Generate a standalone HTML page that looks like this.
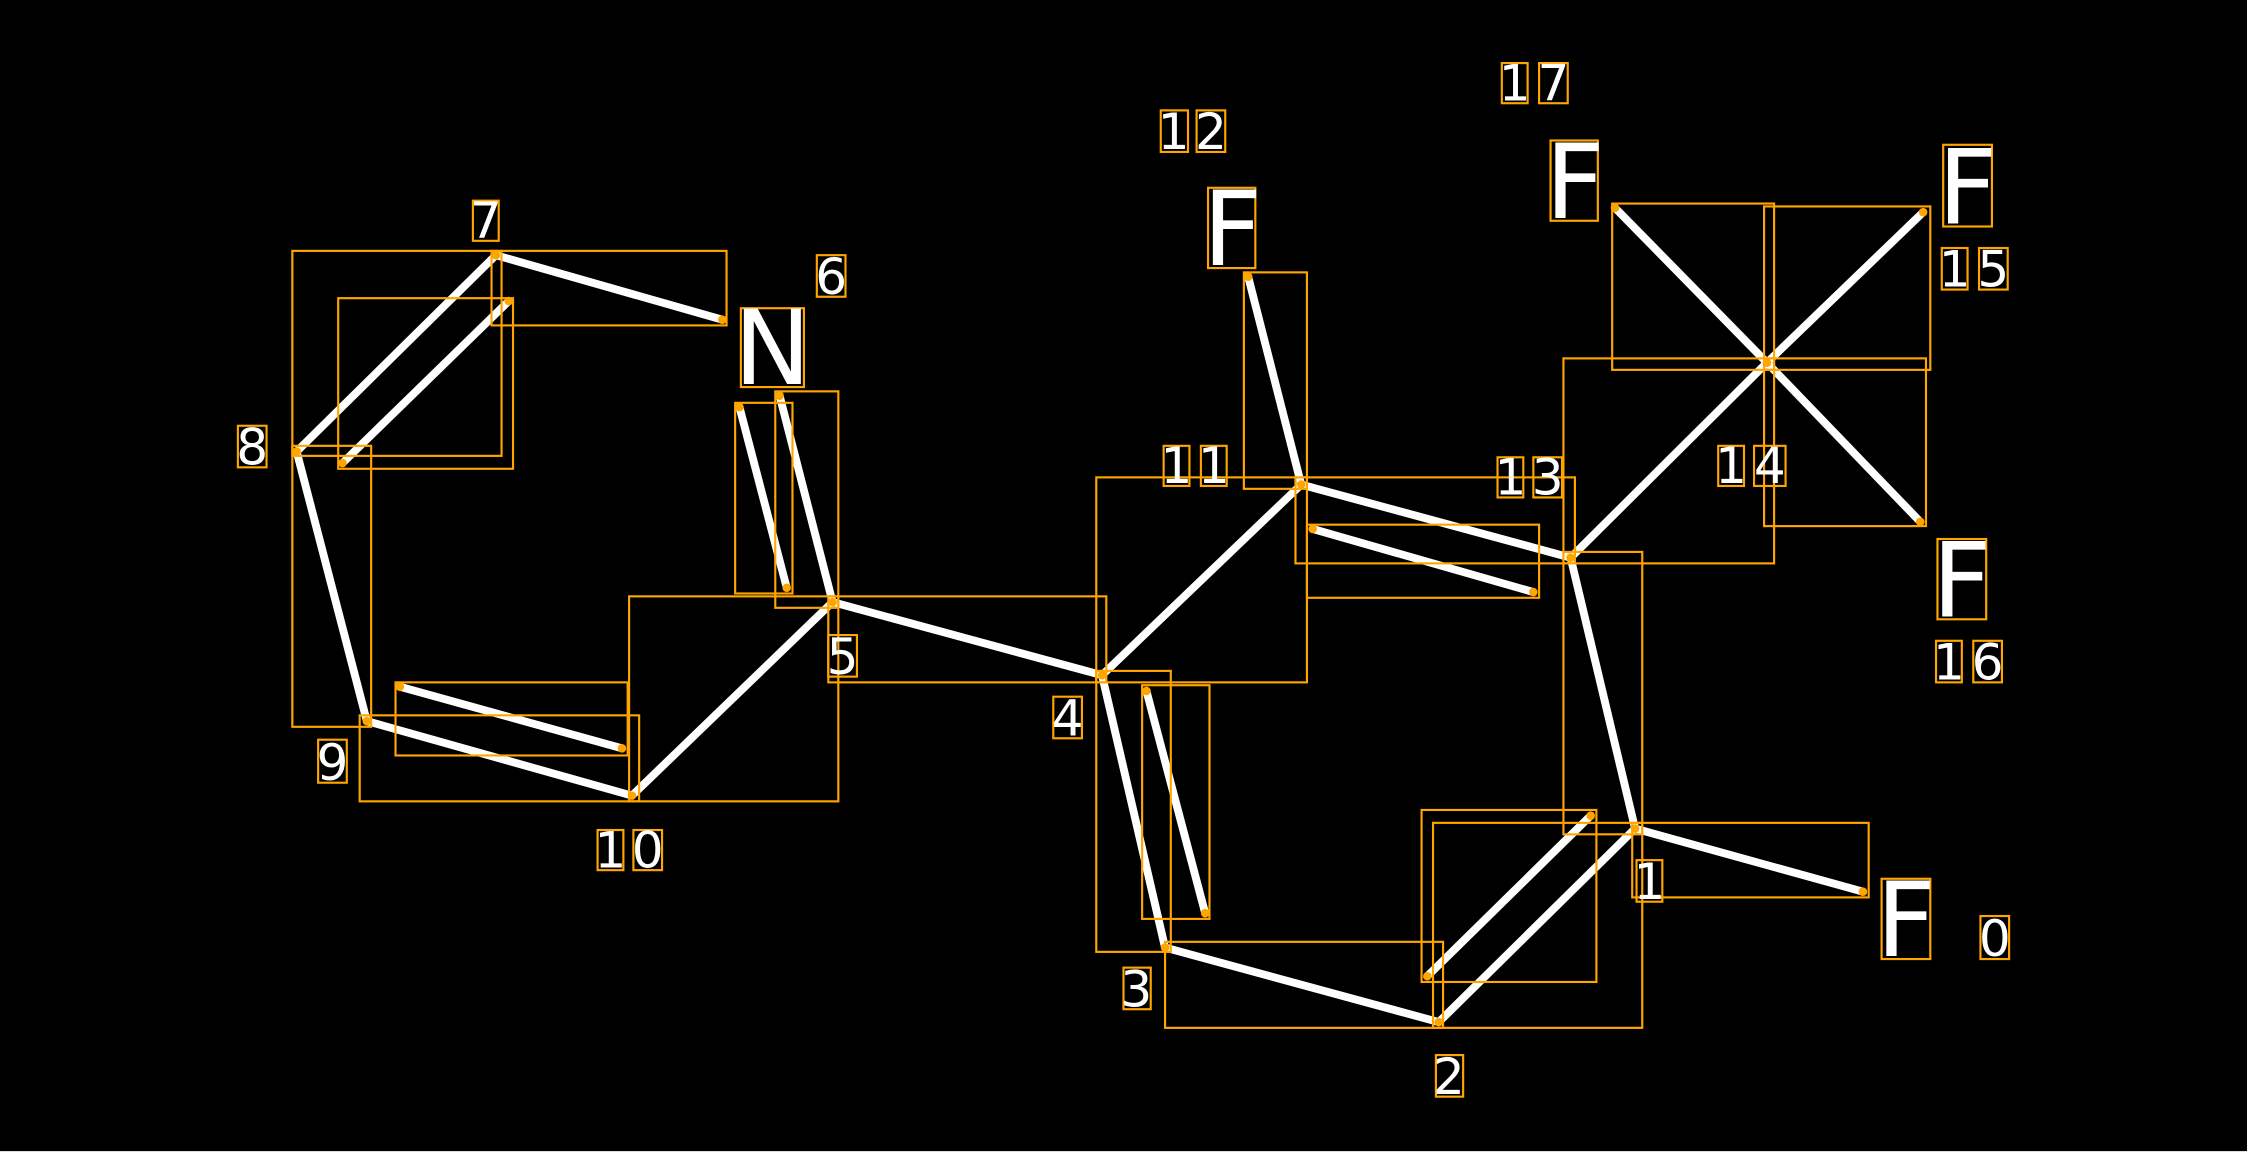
<!DOCTYPE html>
<html><head><meta charset="utf-8"><style>
html,body{margin:0;padding:0;background:#000;overflow:hidden}
svg{display:block}
text{font-family:"DejaVu Sans","Liberation Sans",sans-serif;fill:#fff;text-anchor:middle}
</style></head><body>
<svg width="2247" height="1154" viewBox="0 0 1568 805" preserveAspectRatio="none" xmlns="http://www.w3.org/2000/svg">
<rect width="1568" height="805" fill="#000"/>
<rect x="0" y="803" width="1568" height="2" fill="#fff"/>
<g stroke="#fff" stroke-width="5.5" stroke-linecap="round">
<line x1="346" y1="178" x2="504" y2="223"/>
<line x1="346" y1="178" x2="207" y2="315"/>
<line x1="355" y1="210" x2="239" y2="323"/>
<line x1="207" y1="315" x2="256" y2="503"/>
<line x1="256" y1="503" x2="441" y2="555"/>
<line x1="279" y1="479" x2="434" y2="522"/>
<line x1="441" y1="555" x2="581" y2="420"/>
<line x1="581" y1="420" x2="544" y2="276"/>
<line x1="516" y1="284" x2="549" y2="410"/>
<line x1="581" y1="420" x2="769" y2="471"/>
<line x1="769" y1="471" x2="908" y2="338"/>
<line x1="908" y1="338" x2="871" y2="193"/>
<line x1="908" y1="338" x2="1096" y2="389"/>
<line x1="916" y1="369" x2="1070" y2="413"/>
<line x1="1096" y1="389" x2="1233" y2="253"/>
<line x1="1233" y1="253" x2="1127" y2="145"/>
<line x1="1233" y1="253" x2="1342" y2="148"/>
<line x1="1233" y1="253" x2="1340" y2="364"/>
<line x1="1096" y1="389" x2="1141" y2="578"/>
<line x1="1141" y1="578" x2="1300" y2="622"/>
<line x1="1141" y1="578" x2="1004" y2="713"/>
<line x1="996" y1="681" x2="1110" y2="569"/>
<line x1="1004" y1="713" x2="813" y2="661"/>
<line x1="813" y1="661" x2="769" y2="471"/>
<line x1="800" y1="482" x2="841" y2="637"/>
</g>
<g fill="none" stroke="#FFA500" stroke-width="1.5">
<rect x="204" y="175" width="146" height="143"/>
<rect x="343" y="175" width="164" height="52"/>
<rect x="236" y="208" width="122" height="119"/>
<rect x="204" y="311" width="55" height="196"/>
<rect x="276" y="476" width="162" height="51"/>
<rect x="251" y="499" width="195" height="60"/>
<rect x="439" y="416" width="146" height="143"/>
<rect x="513" y="281" width="40" height="133"/>
<rect x="541" y="273" width="44" height="151"/>
<rect x="578" y="416" width="194" height="60"/>
<rect x="765" y="333" width="147" height="143"/>
<rect x="765" y="468" width="52" height="196"/>
<rect x="797" y="478" width="47" height="163"/>
<rect x="813" y="657" width="194" height="60"/>
<rect x="992" y="565" width="122" height="120"/>
<rect x="1000" y="574" width="146" height="143"/>
<rect x="1091" y="385" width="55" height="197"/>
<rect x="1139" y="574" width="165" height="52"/>
<rect x="868" y="190" width="44" height="151"/>
<rect x="904" y="333" width="195" height="60"/>
<rect x="912" y="366" width="162" height="51"/>
<rect x="1091" y="250" width="147" height="143"/>
<rect x="1125" y="142" width="113" height="116"/>
<rect x="1231" y="144" width="116" height="114"/>
<rect x="1231" y="250" width="113" height="117"/>
<rect x="330" y="140" width="18" height="28"/>
<rect x="570" y="178" width="20" height="29"/>
<rect x="166" y="297" width="20" height="29"/>
<rect x="222" y="516" width="20" height="30"/>
<rect x="417" y="579" width="18" height="28"/><rect x="442" y="579" width="20" height="28"/>
<rect x="578" y="443" width="20" height="29"/>
<rect x="735" y="486" width="20" height="29"/>
<rect x="784" y="675" width="19" height="29"/>
<rect x="1002" y="736" width="19" height="29"/>
<rect x="1142" y="600" width="18" height="29"/>
<rect x="1382" y="639" width="20" height="30"/>
<rect x="812" y="311" width="18" height="28"/><rect x="838" y="311" width="18" height="28"/>
<rect x="810" y="77" width="19" height="29"/><rect x="835" y="77" width="20" height="29"/>
<rect x="1045" y="319" width="18" height="28"/><rect x="1070" y="319" width="20" height="28"/>
<rect x="1199" y="311" width="18" height="28"/><rect x="1224" y="311" width="22" height="28"/>
<rect x="1355" y="173" width="18" height="29"/><rect x="1381" y="173" width="20" height="29"/>
<rect x="1351" y="447" width="18" height="29"/><rect x="1377" y="447" width="20" height="29"/>
<rect x="1048" y="44" width="18" height="28"/><rect x="1074" y="44" width="20" height="28"/>
<rect x="517" y="215" width="44" height="55"/>
<rect x="843" y="131" width="33" height="56"/>
<rect x="1082" y="98" width="33" height="56"/>
<rect x="1356" y="101" width="34" height="57"/>
<rect x="1352" y="376" width="34" height="56"/>
<rect x="1313" y="613" width="34" height="56"/>
</g>
<g fill="#FFA500">
<circle cx="346" cy="178" r="3"/><circle cx="504" cy="223" r="3"/><circle cx="355" cy="210" r="3"/>
<circle cx="207" cy="315" r="3"/><circle cx="239" cy="323" r="3"/><circle cx="256" cy="503" r="3"/>
<circle cx="279" cy="479" r="3"/><circle cx="434" cy="522" r="3"/><circle cx="441" cy="555" r="3"/>
<circle cx="581" cy="420" r="3"/><circle cx="544" cy="276" r="3"/><circle cx="516" cy="284" r="3"/>
<circle cx="549" cy="410" r="3"/><circle cx="769" cy="471" r="3"/><circle cx="908" cy="338" r="3"/>
<circle cx="871" cy="193" r="3"/><circle cx="916" cy="369" r="3"/><circle cx="1070" cy="413" r="3"/>
<circle cx="1096" cy="389" r="3"/><circle cx="1233" cy="253" r="3"/><circle cx="1127" cy="145" r="3"/>
<circle cx="1342" cy="148" r="3"/><circle cx="1340" cy="364" r="3"/><circle cx="1141" cy="578" r="3"/>
<circle cx="1300" cy="622" r="3"/><circle cx="1004" cy="713" r="3"/><circle cx="996" cy="681" r="3"/>
<circle cx="1110" cy="569" r="3"/><circle cx="813" cy="661" r="3"/><circle cx="800" cy="482" r="3"/>
<circle cx="841" cy="637" r="3"/>
</g>
<g font-size="35">
<text x="339" y="166">7</text>
<text x="580" y="205">6</text>
<text x="176" y="324">8</text>
<text x="232" y="544">9</text>
<text x="426" y="605">1</text><text x="452" y="605">0</text>
<text x="588" y="470">5</text>
<text x="745" y="513">4</text>
<text x="793" y="702">3</text>
<text x="1011" y="763">2</text>
<text x="1151" y="627">1</text>
<text x="1392" y="667">0</text>
<text x="821" y="337">1</text><text x="847" y="337">1</text>
<text x="819" y="104">1</text><text x="845" y="104">2</text>
<text x="1054" y="345">1</text><text x="1080" y="345">3</text>
<text x="1208" y="337">1</text><text x="1235" y="337">4</text>
<text x="1364" y="200">1</text><text x="1391" y="200">5</text>
<text x="1360" y="474">1</text><text x="1387" y="474">6</text>
<text x="1057" y="70">1</text><text x="1084" y="70">7</text>
</g>
<g font-size="72">
<text x="539" y="268">N</text>
<text x="860" y="185">F</text>
<text x="1099" y="152">F</text>
<text x="1373" y="156">F</text>
<text x="1369" y="430">F</text>
<text x="1330" y="667">F</text>
</g>
</svg>
</body></html>
